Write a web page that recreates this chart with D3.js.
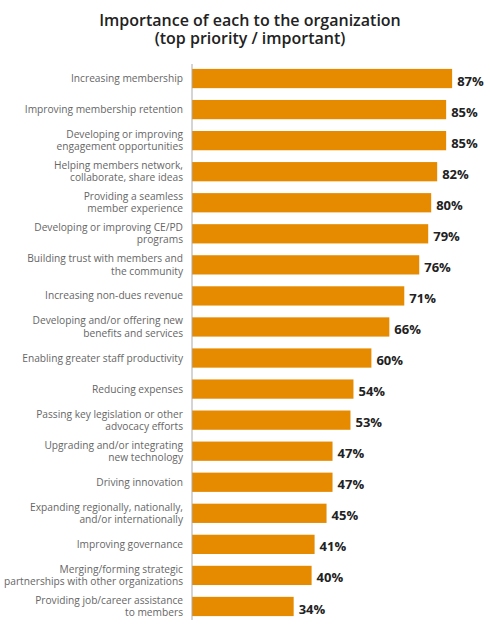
<!DOCTYPE html>
<html>
<head>
<meta charset="utf-8">
<script src="https://cdn.jsdelivr.net/npm/d3@7"></script>
<style>
  html, body { margin: 0; padding: 0; background: #fff; }
  svg { display: block; }
</style>
</head>
<body>
<div id="chart"></div>
<script>
const titleLines = ["Importance of each to the organization", "(top priority / important)"];
const categories = [
  ["Increasing membership"],
  ["Improving membership retention"],
  ["Developing or improving", "engagement opportunities"],
  ["Helping members network,", "collaborate, share ideas"],
  ["Providing a seamless", "member experience"],
  ["Developing or improving CE/PD", "programs"],
  ["Building trust with members and", "the community"],
  ["Increasing non-dues revenue"],
  ["Developing and/or offering new", "benefits and services"],
  ["Enabling greater staff productivity"],
  ["Reducing expenses"],
  ["Passing key legislation or other", "advocacy efforts"],
  ["Upgrading and/or integrating", "new technology"],
  ["Driving innovation"],
  ["Expanding regionally, nationally,", "and/or internationally"],
  ["Improving governance"],
  ["Merging/forming strategic", "partnerships with other organizations"],
  ["Providing job/career assistance", "to members"]
];
const values = [87, 85, 85, 82, 80, 79, 76, 71, 66, 60, 54, 53, 47, 47, 45, 41, 40, 34];

const W = 490, H = 629;
const svg = d3.select("#chart").append("svg").attr("width", W).attr("height", H);

const ids = d3.range(values.length);
const x = d3.scaleLinear().domain([0, 100]).range([192, 491]);
const y = d3.scaleBand().domain(ids).range([63, 622]).paddingInner(0.38).paddingOuter(0.19);

// title
svg.append("text")
  .attr("x", 250).attr("y", 26)
  .attr("text-anchor", "middle")
  .style("font-family", "'Open Sans', sans-serif")
  .style("font-size", "16px")
  .style("font-weight", "600")
  .style("fill", "#222")
  .selectAll("tspan").data(titleLines).join("tspan")
  .attr("x", 250).attr("dy", (d, i) => i === 0 ? 0 : 18)
  .text(d => d);

// bars
svg.append("g").selectAll("rect").data(ids).join("rect")
  .attr("x", x(0))
  .attr("y", i => y(i))
  .attr("width", i => x(values[i]) - x(0))
  .attr("height", y.bandwidth())
  .attr("fill", "#E68A00");

// axis line
svg.append("line")
  .attr("x1", x(0)).attr("x2", x(0))
  .attr("y1", 64).attr("y2", 620)
  .attr("stroke", "#aaa").attr("stroke-width", 1);

// category labels
const lab = svg.append("g").selectAll("text").data(ids).join("text")
  .attr("text-anchor", "end")
  .style("font-family", "'Open Sans', sans-serif")
  .style("font-size", "10.2px")
  .style("fill", "#666");
lab.each(function(i) {
  const lines = categories[i];
  const cy = y(i) + y.bandwidth() / 2;
  const lh = 12.2;
  const t = d3.select(this);
  lines.forEach((ln, k) => {
    t.append("tspan")
      .attr("x", 183)
      .attr("y", cy + (k - (lines.length - 1) / 2) * lh)
      .attr("dy", "0.35em")
      .text(ln);
  });
});

// value labels
svg.append("g").selectAll("text").data(ids).join("text")
  .attr("x", i => x(values[i]) + 5)
  .attr("y", i => y(i) + y.bandwidth() / 2 + 2.5)
  .attr("dy", "0.35em")
  .style("font-family", "'Open Sans', sans-serif")
  .style("font-size", "13px")
  .style("font-weight", "bold")
  .style("fill", "#222")
  .text(i => values[i] + "%");
</script>
</body>
</html>
